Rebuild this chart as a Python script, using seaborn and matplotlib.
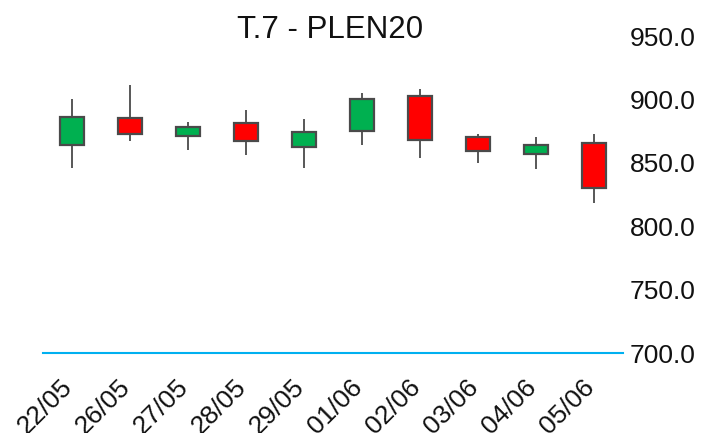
import matplotlib
matplotlib.use("Agg")
import matplotlib.pyplot as plt
import matplotlib.transforms as mtransforms
import seaborn as sns
import numpy as np
import pandas as pd

dates = ["22/05", "26/05", "27/05", "28/05", "29/05", "01/06", "02/06", "03/06", "04/06", "05/06"]
opens = [864, 885, 871, 881, 862.5, 875, 903, 870, 857, 866]
closes = [886, 872.5, 878, 867, 874, 900, 868, 859.5, 864, 830]
highs = [900, 911, 882, 891.5, 884.5, 905, 908, 873, 870.5, 872.5]
lows = [846, 867, 860, 856, 846, 864, 854, 850, 845, 818]
title = "T.7 - PLEN20"
yticks = [700, 750, 800, 850, 900, 950]

df = pd.DataFrame({"date": dates, "open": opens, "close": closes, "high": highs, "low": lows})
df["up"] = df["close"] >= df["open"]
df["bottom"] = df[["open", "close"]].min(axis=1)
df["height"] = (df["close"] - df["open"]).abs()

sns.set_theme(style="white")
plt.rcParams["font.family"] = ["Liberation Sans", "DejaVu Sans"]

fig = plt.figure(figsize=(7.01, 4.33), dpi=100)
ax = fig.add_axes([43 / 701, 1 - 353 / 433, 580 / 701, 317 / 433])

x = np.arange(len(df))
edge = "#4a4a4a"
ax.vlines(x, df["low"], df["high"], color=edge, lw=1.3, zorder=1)
colors = ["#00B050" if u else "#FF0000" for u in df["up"]]
ax.bar(x, df["height"], bottom=df["bottom"], width=0.43, color=colors,
       edgecolor=edge, linewidth=1.6, zorder=2)

ax.set_xlim(-0.5, len(df) - 0.5)
ax.set_ylim(700, 950)
ax.set_yticks(yticks)
ax.set_yticklabels([f"{v:.1f}" for v in yticks], fontsize=19, color="#111111")
ax.yaxis.tick_right()
ax.tick_params(axis="y", length=0, pad=5)
ax.set_xticks(x)
ax.set_xticklabels(dates, rotation=45, ha="right", fontsize=19, color="#111111")
ax.tick_params(axis="x", length=0, pad=16)
offset = mtransforms.ScaledTranslation(5 / 100, 0, fig.dpi_scale_trans)
for lab in ax.get_xticklabels():
    lab.set_transform(lab.get_transform() + offset)

for s in ["top", "left", "right"]:
    ax.spines[s].set_visible(False)
ax.spines["bottom"].set_color("#00B0F0")
ax.spines["bottom"].set_linewidth(1.5)
ax.grid(False)

fig.text(330 / 701, 1 - 38.3 / 433, title, ha="center", va="baseline", fontsize=22.5, color="#111111")

fig.savefig("out.png", dpi=100)
